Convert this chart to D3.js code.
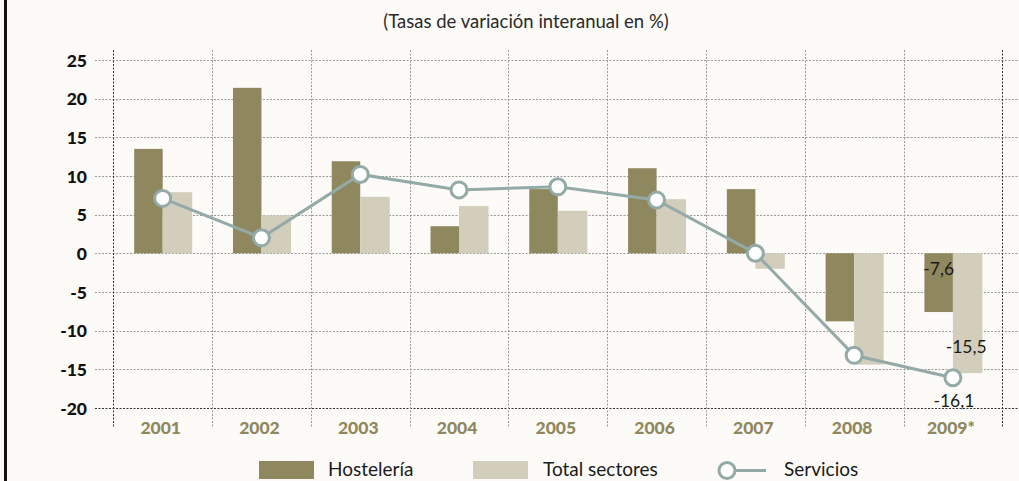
<!DOCTYPE html>
<html>
<head>
<meta charset="utf-8">
<script src="https://cdn.jsdelivr.net/npm/d3@7"></script>
<style>
  html, body { margin: 0; padding: 0; background: #fcfbf7; }
  svg { display: block; font-family: Lato, "Open Sans", sans-serif; }
</style>
</head>
<body>
<svg id="chart" width="1019" height="481"></svg>
<script>
// Years and annual growth rates (%)
const years = ["2001", "2002", "2003", "2004", "2005", "2006", "2007", "2008", "2009*"];
const hosteleria = [13.5, 21.4, 11.9, 3.5, 8.3, 11.0, 8.3, -8.8, -7.6];
const totalSectores = [7.9, 4.9, 7.3, 6.1, 5.5, 7.0, -2.0, -14.4, -15.5];
const servicios = [7.1, 2.0, 10.2, 8.2, 8.6, 6.9, 0.0, -13.2, -16.1];
const yTicks = [25, 20, 15, 10, 5, 0, -5, -10, -15, -20];
const seriesNames = ["Hostelería", "Total sectores", "Servicios"];
// Value labels shown on the last year only
const labelledIndex = 8;

const colors = { host: "#8f875e", total: "#d3cdbb", serv: "#93aaa7" };

const svg = d3.select("#chart");

const x = d3.scaleBand().domain(years).range([113.3, 1002.3]).padding(0);
const y = d3.scaleLinear().domain([-20, 25]).range([407.9, 60]);

const barW = 28.5;

// Left frame rule
svg.append("rect").attr("x", 4).attr("y", 0).attr("width", 3).attr("height", 481).attr("fill", "#111");

// Title
svg.append("text")
  .attr("x", 526).attr("y", 28)
  .attr("text-anchor", "middle")
  .attr("font-size", 18.5)
  .attr("fill", "#2a2a2a")
  .text("(Tasas de variación interanual en %)");

// Horizontal grid
const grid = svg.append("g");
grid.selectAll("line.h").data(yTicks).join("line")
  .attr("class", "h")
  .attr("x1", 95).attr("x2", 1019)
  .attr("y1", d => Math.round(y(d)) + 0.5).attr("y2", d => Math.round(y(d)) + 0.5)
  .attr("stroke", d => d === -20 ? "#333" : "#9a9a9a")
  .attr("stroke-width", 1)
  .attr("stroke-dasharray", "2,1.5");

// Vertical grid at category boundaries
const bounds = years.map(d => x(d)).concat([x(years[years.length - 1]) + x.bandwidth()]);
grid.selectAll("line.v").data(bounds).join("line")
  .attr("class", "v")
  .attr("x1", d => Math.round(d) + 0.5).attr("x2", d => Math.round(d) + 0.5)
  .attr("y1", 50).attr("y2", 428)
  .attr("stroke", (d, i) => (i === 0 || i === bounds.length - 1) ? "#333" : "#9a9a9a")
  .attr("stroke-width", 1)
  .attr("stroke-dasharray", "2,1.5");

// Y axis labels (plain hyphen for negatives)
const yAxis = d3.axisLeft(y).tickValues(yTicks).tickSize(0).tickPadding(0)
  .tickFormat(d => String(d));
svg.append("g").attr("transform", "translate(87,0)").call(yAxis)
  .call(g => g.select(".domain").remove())
  .call(g => g.selectAll("text")
    .attr("font-family", "Lato, sans-serif")
    .attr("font-size", 17.5).attr("font-weight", 900).attr("fill", "#111")
    .attr("dy", "0.36em"));

// X axis labels
const xAxis = d3.axisBottom(x).tickSize(0).tickPadding(0);
svg.append("g").attr("transform", "translate(-2,422)").call(xAxis)
  .call(g => g.select(".domain").remove())
  .call(g => g.selectAll("text")
    .attr("font-family", "Lato, sans-serif")
    .attr("font-size", 17.5).attr("font-weight", 900).attr("fill", "#8f875e"));

const cx = d => x(d) + x.bandwidth() / 2;

// Bars
svg.append("g").selectAll("rect").data(years).join("rect")
  .attr("x", d => cx(d) - barW)
  .attr("width", barW)
  .attr("y", (d, i) => y(Math.max(0, hosteleria[i])))
  .attr("height", (d, i) => Math.abs(y(hosteleria[i]) - y(0)))
  .attr("fill", colors.host);

svg.append("g").selectAll("rect").data(years).join("rect")
  .attr("x", d => cx(d))
  .attr("width", barW + 1)
  .attr("y", (d, i) => y(Math.max(0, totalSectores[i])))
  .attr("height", (d, i) => Math.abs(y(totalSectores[i]) - y(0)))
  .attr("fill", colors.total);

// Servicios line
const line = d3.line().x((v, i) => cx(years[i])).y(v => y(v));
svg.append("path").datum(servicios)
  .attr("d", line)
  .attr("fill", "none")
  .attr("stroke", colors.serv)
  .attr("stroke-width", 3);

svg.append("g").selectAll("circle").data(servicios).join("circle")
  .attr("cx", (v, i) => cx(years[i]))
  .attr("cy", v => y(v))
  .attr("r", 8)
  .attr("fill", "#fff")
  .attr("stroke", colors.serv)
  .attr("stroke-width", 3);

// Value labels
const fmt = v => String(v.toFixed(1)).replace(".", ",");
const k = years[labelledIndex];
const lbl = svg.append("g").attr("font-size", 17.5).attr("fill", "#1a1a1a").attr("text-anchor", "middle");
lbl.append("text")
  .attr("x", cx(k) - barW / 2).attr("y", y(0) + 22)
  .text(fmt(hosteleria[labelledIndex]));
lbl.append("text")
  .attr("x", cx(k) + barW / 2 - 1).attr("y", y(totalSectores[labelledIndex]) - 20)
  .text(fmt(totalSectores[labelledIndex]));
lbl.append("text")
  .attr("x", cx(k) + 1).attr("y", y(servicios[labelledIndex]) + 29)
  .text(fmt(servicios[labelledIndex]));

// Legend
const lg = svg.append("g").attr("font-size", 19).attr("fill", "#1a1a1a");
lg.append("rect").attr("x", 259).attr("y", 461).attr("width", 55).attr("height", 18).attr("fill", colors.host);
lg.append("text").attr("x", 328).attr("y", 476).text(seriesNames[0]);
lg.append("rect").attr("x", 473).attr("y", 461).attr("width", 55).attr("height", 18).attr("fill", colors.total);
lg.append("text").attr("x", 543).attr("y", 476).text(seriesNames[1]);
lg.append("line").attr("x1", 730).attr("x2", 766).attr("y1", 470.5).attr("y2", 470.5)
  .attr("stroke", colors.serv).attr("stroke-width", 3);
lg.append("circle").attr("cx", 727).attr("cy", 470.5).attr("r", 8)
  .attr("fill", "#fff").attr("stroke", colors.serv).attr("stroke-width", 3);
lg.append("text").attr("x", 784).attr("y", 476).text(seriesNames[2]);
</script>
</body>
</html>
